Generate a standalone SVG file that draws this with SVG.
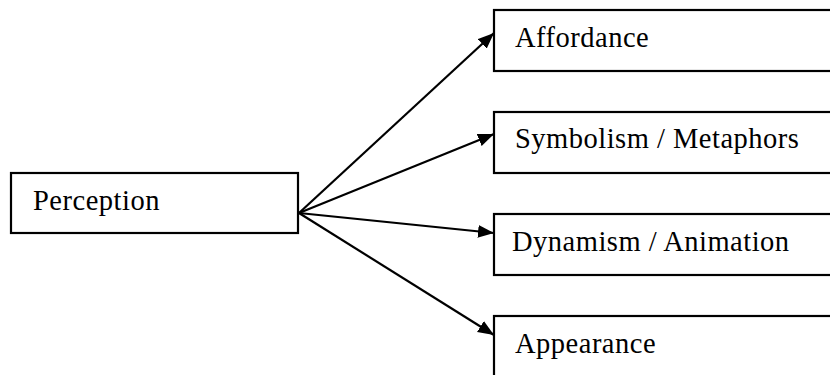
<svg xmlns="http://www.w3.org/2000/svg" width="830" height="375" viewBox="0 0 830 375">
  <style>
    .box { fill: #ffffff; stroke: #000000; stroke-width: 2.2; }
    .label { font-family: "Liberation Serif", "Times New Roman", serif; font-size: 28.5px; letter-spacing: 0.5px; fill: #000000; }
    .link { stroke: #000000; stroke-width: 2.2; fill: none; marker-end: url(#arrow); }
  </style>
  <defs>
    <marker id="arrow" markerUnits="userSpaceOnUse" markerWidth="18" markerHeight="14" refX="16" refY="7" orient="auto">
      <path d="M0,0.5 L16,7 L0,13.5 Z" fill="#000000"/>
    </marker>
  </defs>
  <rect width="830" height="375" fill="#ffffff"/>

  <g id="connectors">
    <line class="link" x1="299" y1="213" x2="494" y2="33"/>
    <line class="link" x1="299" y1="213" x2="494" y2="134"/>
    <line class="link" x1="299" y1="213" x2="494" y2="233"/>
    <line class="link" x1="299" y1="213" x2="494" y2="335"/>
  </g>

  <g id="perception">
    <rect class="box" x="11" y="173" width="287" height="60"/>
    <text class="label" x="33" y="210">Perception</text>
  </g>

  <g id="affordance">
    <rect class="box" x="494" y="10" width="345" height="61"/>
    <text class="label" x="515" y="47">Affordance</text>
  </g>

  <g id="symbolism">
    <rect class="box" x="494" y="112" width="345" height="61"/>
    <text class="label" x="515" y="148">Symbolism / Metaphors</text>
  </g>

  <g id="dynamism">
    <rect class="box" x="494" y="214" width="345" height="61"/>
    <text class="label" x="512" y="251">Dynamism / Animation</text>
  </g>

  <g id="appearance">
    <rect class="box" x="494" y="316" width="345" height="70"/>
    <text class="label" x="515" y="353">Appearance</text>
  </g>
</svg>
